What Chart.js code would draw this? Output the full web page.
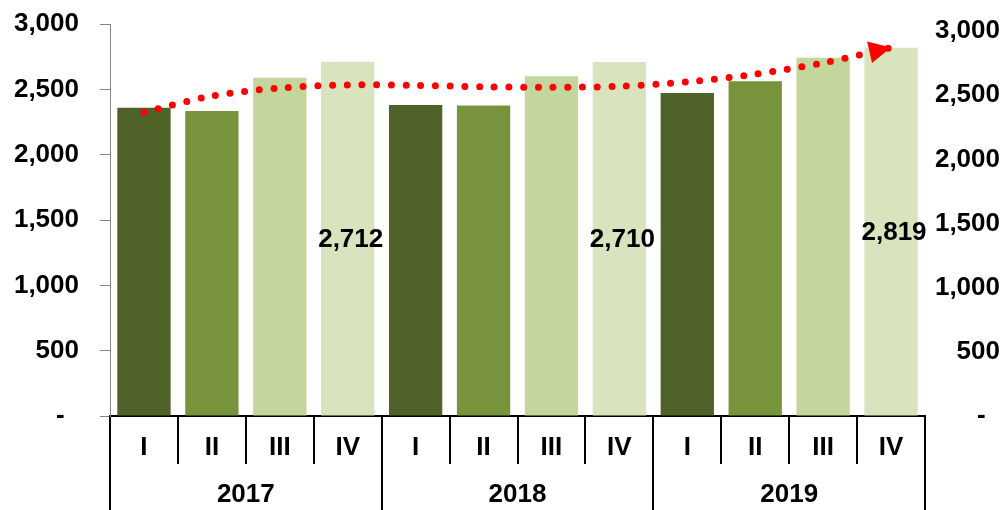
<!DOCTYPE html>
<html>
<head>
<meta charset="utf-8">
<script src="https://cdn.jsdelivr.net/npm/chart.js@4/dist/chart.umd.min.js"></script>
<style>
html,body{margin:0;padding:0;background:#fff;}
#wrap{width:1006px;height:510px;position:relative;}
</style>
</head>
<body>
<div id="wrap"><canvas id="c" width="1006" height="510"></canvas></div>
<script>
// ---- data ----
const quarters = ['I','II','III','IV','I','II','III','IV','I','II','III','IV'];
const years = ['2017','2018','2019'];
const barValues = [2359, 2334, 2589, 2712, 2380, 2376, 2600, 2710, 2472, 2561, 2742, 2819];
const trendValues = [2367, 2494, 2556, 2580, 2577, 2566, 2562, 2569, 2604, 2664, 2752, 2872];
const yTicks = [0, 500, 1000, 1500, 2000, 2500, 3000];
const labeledQuarter = 'IV';

// ---- styles ----
const quarterColors = {I:'#4F6228', II:'#77933C', III:'#C3D69B', IV:'#D7E4BD'};
const FAMILY = "'Liberation Sans', Arial, Helvetica, sans-serif";
const FONT = {family: FAMILY, size: 26, weight: 'bold', lineHeight: 1.2};

function fmt(v) {
  return v === 0 ? '-  ' : Number(v).toLocaleString('en-US');
}

const barLabelPlugin = {
  id: 'barLabels',
  afterDatasetsDraw(chart) {
    const meta = chart.getDatasetMeta(1);
    const ctx = chart.ctx;
    ctx.save();
    ctx.font = 'bold 26px ' + FAMILY;
    ctx.fillStyle = '#000';
    ctx.textAlign = 'center';
    ctx.textBaseline = 'middle';
    meta.data.forEach((el, i) => {
      if (quarters[i] !== labeledQuarter) return;
      const p = el.getProps(['x', 'y', 'base'], true);
      ctx.fillText(fmt(barValues[i]), p.x + 3, (p.y + p.base) / 2 + 1);
    });
    ctx.restore();
  }
};

const arrowPlugin = {
  id: 'trendArrow',
  afterDatasetsDraw(chart) {
    const meta = chart.getDatasetMeta(0);
    const pts = meta.data;
    const n = pts.length;
    if (n < 2) return;
    const tip = pts[n - 1], prev = pts[n - 2];
    let dx = tip.x - prev.x, dy = tip.y - prev.y;
    const len = Math.hypot(dx, dy);
    dx /= len; dy /= len;
    const L = 22, W = 11;
    const bx = tip.x - dx * L, by = tip.y - dy * L;
    const ctx = chart.ctx;
    ctx.save();
    ctx.fillStyle = '#FF0000';
    ctx.beginPath();
    ctx.moveTo(tip.x, tip.y);
    ctx.lineTo(bx - dy * W, by + dx * W);
    ctx.lineTo(bx + dy * W, by - dx * W);
    ctx.closePath();
    ctx.fill();
    ctx.restore();
  }
};

Chart.defaults.font.family = FAMILY;
Chart.defaults.color = '#000';

new Chart(document.getElementById('c'), {
  type: 'bar',
  data: {
    labels: quarters,
    datasets: [
      {
        type: 'line',
        data: trendValues,
        yAxisID: 'y1',
        xAxisID: 'x',
        borderColor: '#FF0000',
        borderWidth: 7,
        borderDash: [0, 14.7],
        borderCapStyle: 'round',
        pointRadius: 0,
        pointHoverRadius: 0,
        tension: 0.3,
        fill: false,
        order: 0
      },
      {
        type: 'bar',
        data: barValues,
        yAxisID: 'y',
        xAxisID: 'x',
        backgroundColor: quarters.map(q => quarterColors[q]),
        borderWidth: 0,
        barPercentage: 0.785,
        categoryPercentage: 1,
        order: 1
      }
    ]
  },
  options: {
    responsive: false,
    devicePixelRatio: 1,
    animation: false,
    layout: {padding: {top: 24, right: 6, left: 0, bottom: 0}},
    plugins: {legend: {display: false}, tooltip: {enabled: false}},
    scales: {
      x: {
        type: 'category',
        position: 'bottom',
        weight: 0,
        offset: true,
        grid: {offset: true, drawOnChartArea: false, tickLength: 48, color: '#000', lineWidth: 2},
        border: {display: true, color: '#000', width: 2},
        ticks: {padding: -32, color: '#000', font: FONT, maxRotation: 0, autoSkip: false},
        afterFit(s) { s.height = 48; s.paddingLeft = 0; s.paddingRight = 0; }
      },
      x2: {
        type: 'category',
        labels: years,
        position: 'bottom',
        weight: 1,
        offset: true,
        grid: {offset: true, drawOnChartArea: false, tickLength: 46, color: '#000', lineWidth: 2},
        border: {display: false},
        ticks: {padding: -30.5, color: '#000', font: FONT, maxRotation: 0, autoSkip: false},
        afterFit(s) { s.height = 46; s.paddingLeft = 0; s.paddingRight = 0; }
      },
      y: {
        position: 'left',
        min: 0,
        max: 3000,
        afterBuildTicks(s) { s.ticks = yTicks.map(v => ({value: v})); },
        ticks: {callback: fmt, padding: 21, color: '#000', font: FONT},
        grid: {drawOnChartArea: false, tickLength: 10, color: '#868686', lineWidth: 1},
        border: {display: true, color: '#868686', width: 1},
        afterFit(s) { s.width = 110; s.paddingTop = 0; s.paddingBottom = 0; }
      },
      y1: {
        position: 'right',
        min: 0,
        max: 3055,
        afterBuildTicks(s) { s.ticks = yTicks.map(v => ({value: v})); },
        ticks: {callback: fmt, padding: 13, color: '#000', font: FONT, crossAlign: 'far'},
        grid: {display: false, drawOnChartArea: false, drawTicks: false},
        border: {display: false},
        afterFit(s) { s.width = 75; s.paddingTop = 0; s.paddingBottom = 0; }
      }
    }
  },
  plugins: [barLabelPlugin, arrowPlugin]
});
</script>
</body>
</html>
